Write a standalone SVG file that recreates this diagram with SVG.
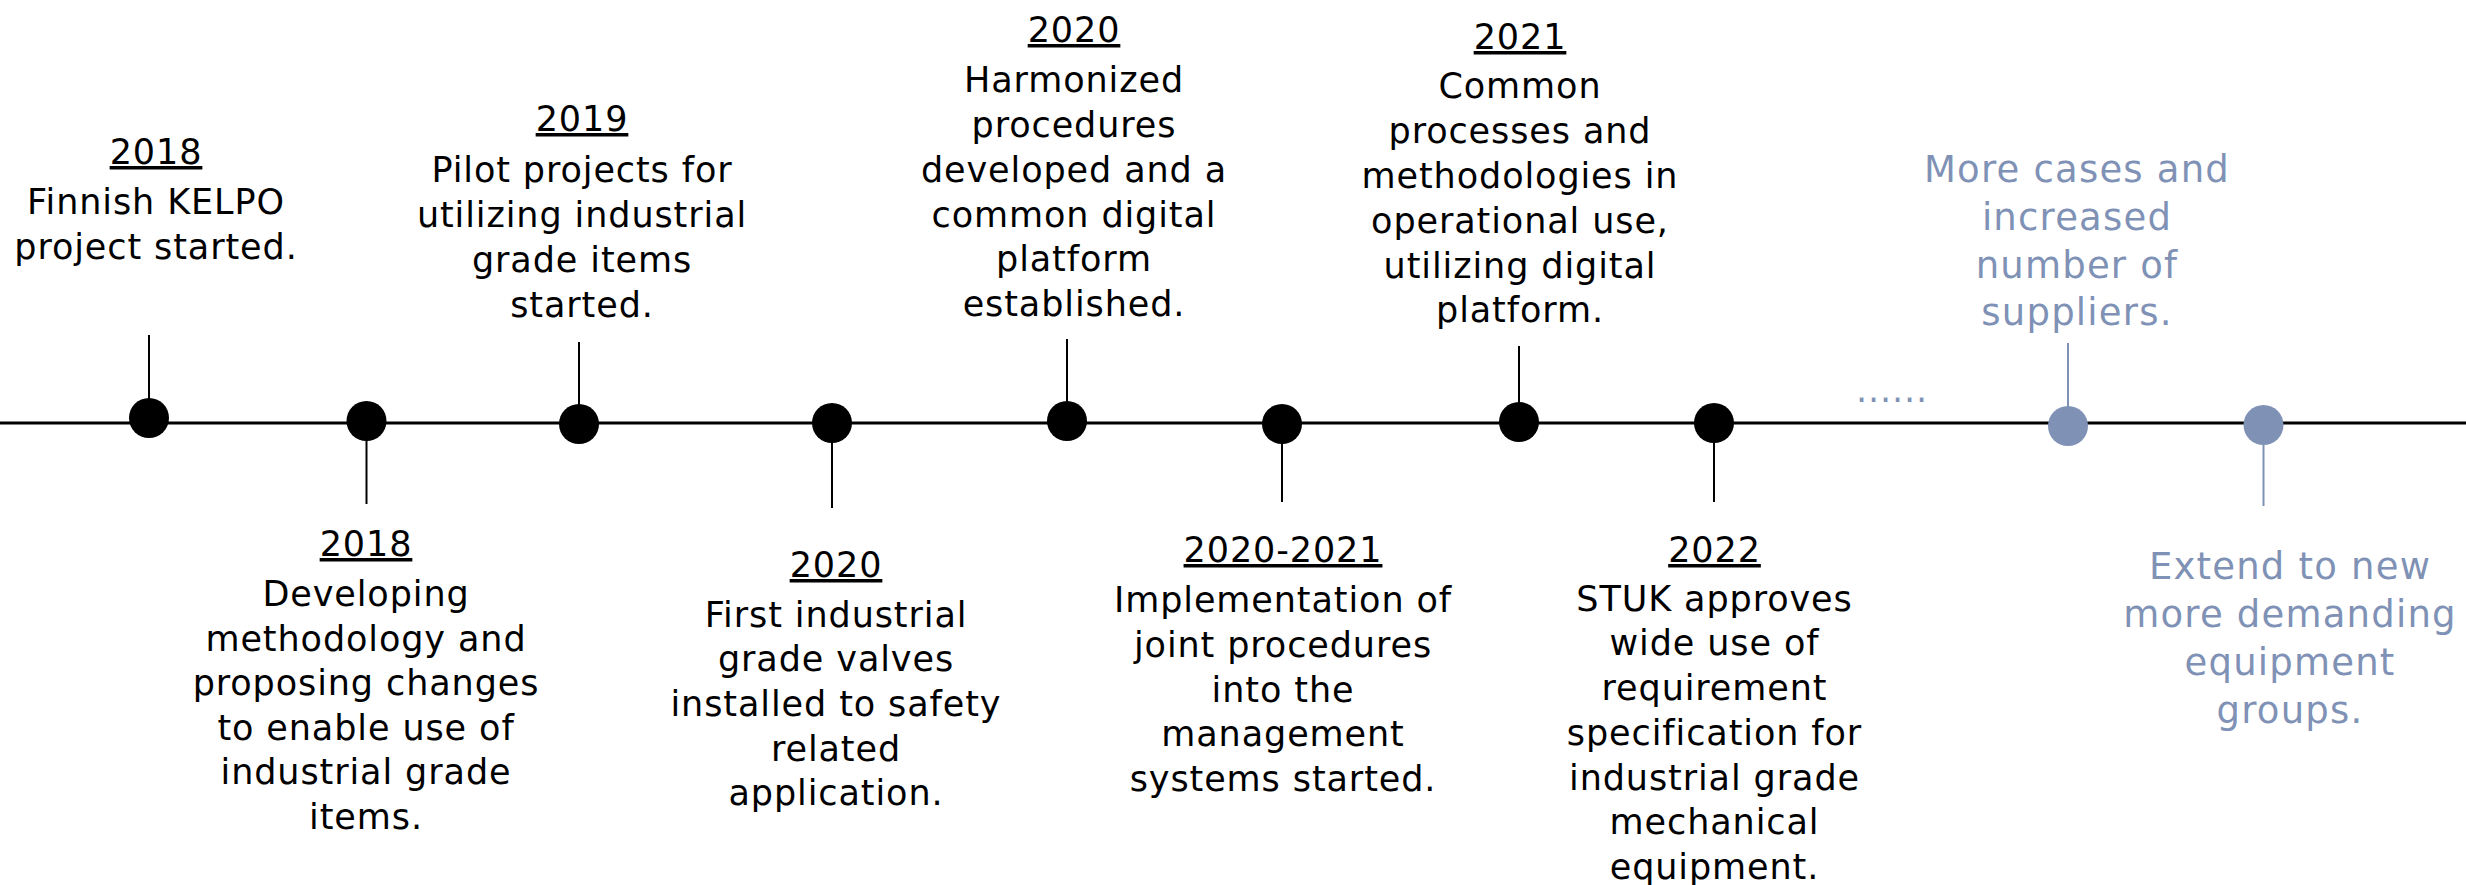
<svg xmlns="http://www.w3.org/2000/svg" width="2466" height="885" viewBox="0 0 2466 885">
<style>
  .t { font-family: "DejaVu Sans", Verdana, sans-serif; font-size: 35px; letter-spacing: 0.9px; fill: #000; text-anchor: middle; }
  .b { font-family: "DejaVu Sans", Verdana, sans-serif; font-size: 37px; letter-spacing: 1.2px; fill: #7F92B6; text-anchor: middle; }
  .yr { text-decoration: underline; }
  .axis { stroke: #000; stroke-width: 3; fill: none; }
  .stem { stroke: #000; stroke-width: 2; fill: none; }
  .stemb { stroke: #7F92B6; stroke-width: 2; fill: none; }
  .dot { fill: #000; }
  .dotb { fill: #7F92B6; }
</style>
<rect width="2466" height="885" fill="#fff"/>
<g id="connectors">
  <line class="axis" x1="0" y1="423" x2="2466" y2="423"/>
  <line class="stem" x1="149" y1="335" x2="149" y2="418"/>
  <line class="stem" x1="366.5" y1="421" x2="366.5" y2="504"/>
  <line class="stem" x1="579" y1="342" x2="579" y2="424"/>
  <line class="stem" x1="832" y1="423" x2="832" y2="508"/>
  <line class="stem" x1="1067" y1="339" x2="1067" y2="421"/>
  <line class="stem" x1="1282" y1="424" x2="1282" y2="502"/>
  <line class="stem" x1="1519" y1="346" x2="1519" y2="422"/>
  <line class="stem" x1="1714" y1="423" x2="1714" y2="502"/>
  <line class="stemb" x1="2068" y1="343" x2="2068" y2="426"/>
  <line class="stemb" x1="2263.5" y1="425" x2="2263.5" y2="506"/>
</g>
<g id="n1">
  <circle class="dot" cx="149" cy="418" r="20"/>
  <text class="t" x="156"><tspan class="yr" x="156" y="164">2018</tspan><tspan x="156" y="214">Finnish KELPO</tspan><tspan x="156" y="258.5">project started.</tspan></text>
</g>
<g id="n2">
  <circle class="dot" cx="366.5" cy="421" r="20"/>
  <text class="t"><tspan class="yr" x="366" y="556">2018</tspan><tspan x="366" y="606">Developing</tspan><tspan x="366" y="650.5">methodology and</tspan><tspan x="366" y="695">proposing changes</tspan><tspan x="366" y="739.5">to enable use of</tspan><tspan x="366" y="784">industrial grade</tspan><tspan x="366" y="829">items.</tspan></text>
</g>
<g id="n3">
  <circle class="dot" cx="579" cy="424" r="20"/>
  <text class="t"><tspan class="yr" x="582" y="131">2019</tspan><tspan x="582" y="182">Pilot projects for</tspan><tspan x="582" y="227">utilizing industrial</tspan><tspan x="582" y="272">grade items</tspan><tspan x="582" y="316.5">started.</tspan></text>
</g>
<g id="n4">
  <circle class="dot" cx="832" cy="423" r="20"/>
  <text class="t"><tspan class="yr" x="836" y="577">2020</tspan><tspan x="836" y="627">First industrial</tspan><tspan x="836" y="671">grade valves</tspan><tspan x="836" y="716">installed to safety</tspan><tspan x="836" y="760.5">related</tspan><tspan x="836" y="805">application.</tspan></text>
</g>
<g id="n5">
  <circle class="dot" cx="1067" cy="421" r="20"/>
  <text class="t"><tspan class="yr" x="1074" y="42">2020</tspan><tspan x="1074" y="92">Harmonized</tspan><tspan x="1074" y="137">procedures</tspan><tspan x="1074" y="182">developed and a</tspan><tspan x="1074" y="227">common digital</tspan><tspan x="1074" y="271">platform</tspan><tspan x="1074" y="315.5">established.</tspan></text>
</g>
<g id="n6">
  <circle class="dot" cx="1282" cy="424" r="20"/>
  <text class="t"><tspan class="yr" x="1283" y="562">2020-2021</tspan><tspan x="1283" y="612">Implementation of</tspan><tspan x="1283" y="656.7">joint procedures</tspan><tspan x="1283" y="701.5">into the</tspan><tspan x="1283" y="746">management</tspan><tspan x="1283" y="790.5">systems started.</tspan></text>
</g>
<g id="n7">
  <circle class="dot" cx="1519" cy="422" r="20"/>
  <text class="t"><tspan class="yr" x="1520" y="49">2021</tspan><tspan x="1520" y="98">Common</tspan><tspan x="1520" y="143">processes and</tspan><tspan x="1520" y="188">methodologies in</tspan><tspan x="1520" y="233">operational use,</tspan><tspan x="1520" y="277.5">utilizing digital</tspan><tspan x="1520" y="322">platform.</tspan></text>
</g>
<g id="n8">
  <circle class="dot" cx="1714" cy="423" r="20"/>
  <text class="t"><tspan class="yr" x="1714.5" y="562">2022</tspan><tspan x="1714.5" y="610.5">STUK approves</tspan><tspan x="1714.5" y="655">wide use of</tspan><tspan x="1714.5" y="700">requirement</tspan><tspan x="1714.5" y="745">specification for</tspan><tspan x="1714.5" y="789.5">industrial grade</tspan><tspan x="1714.5" y="834.3">mechanical</tspan><tspan x="1714.5" y="879">equipment.</tspan></text>
</g>
<g id="ellipsis">
  <text class="b" x="1892" y="401.7" style="font-size:35px;letter-spacing:0.9px">......</text>
</g>
<g id="n9">
  <circle class="dotb" cx="2068" cy="426" r="20"/>
  <text class="b"><tspan x="2077" y="181.7">More cases and</tspan><tspan x="2077" y="229.5">increased</tspan><tspan x="2077" y="277.5">number of</tspan><tspan x="2077" y="325">suppliers.</tspan></text>
</g>
<g id="n10">
  <circle class="dotb" cx="2263.5" cy="425" r="20"/>
  <text class="b"><tspan x="2290" y="579">Extend to new</tspan><tspan x="2290" y="627">more demanding</tspan><tspan x="2290" y="675">equipment</tspan><tspan x="2290" y="723">groups.</tspan></text>
</g>
</svg>
